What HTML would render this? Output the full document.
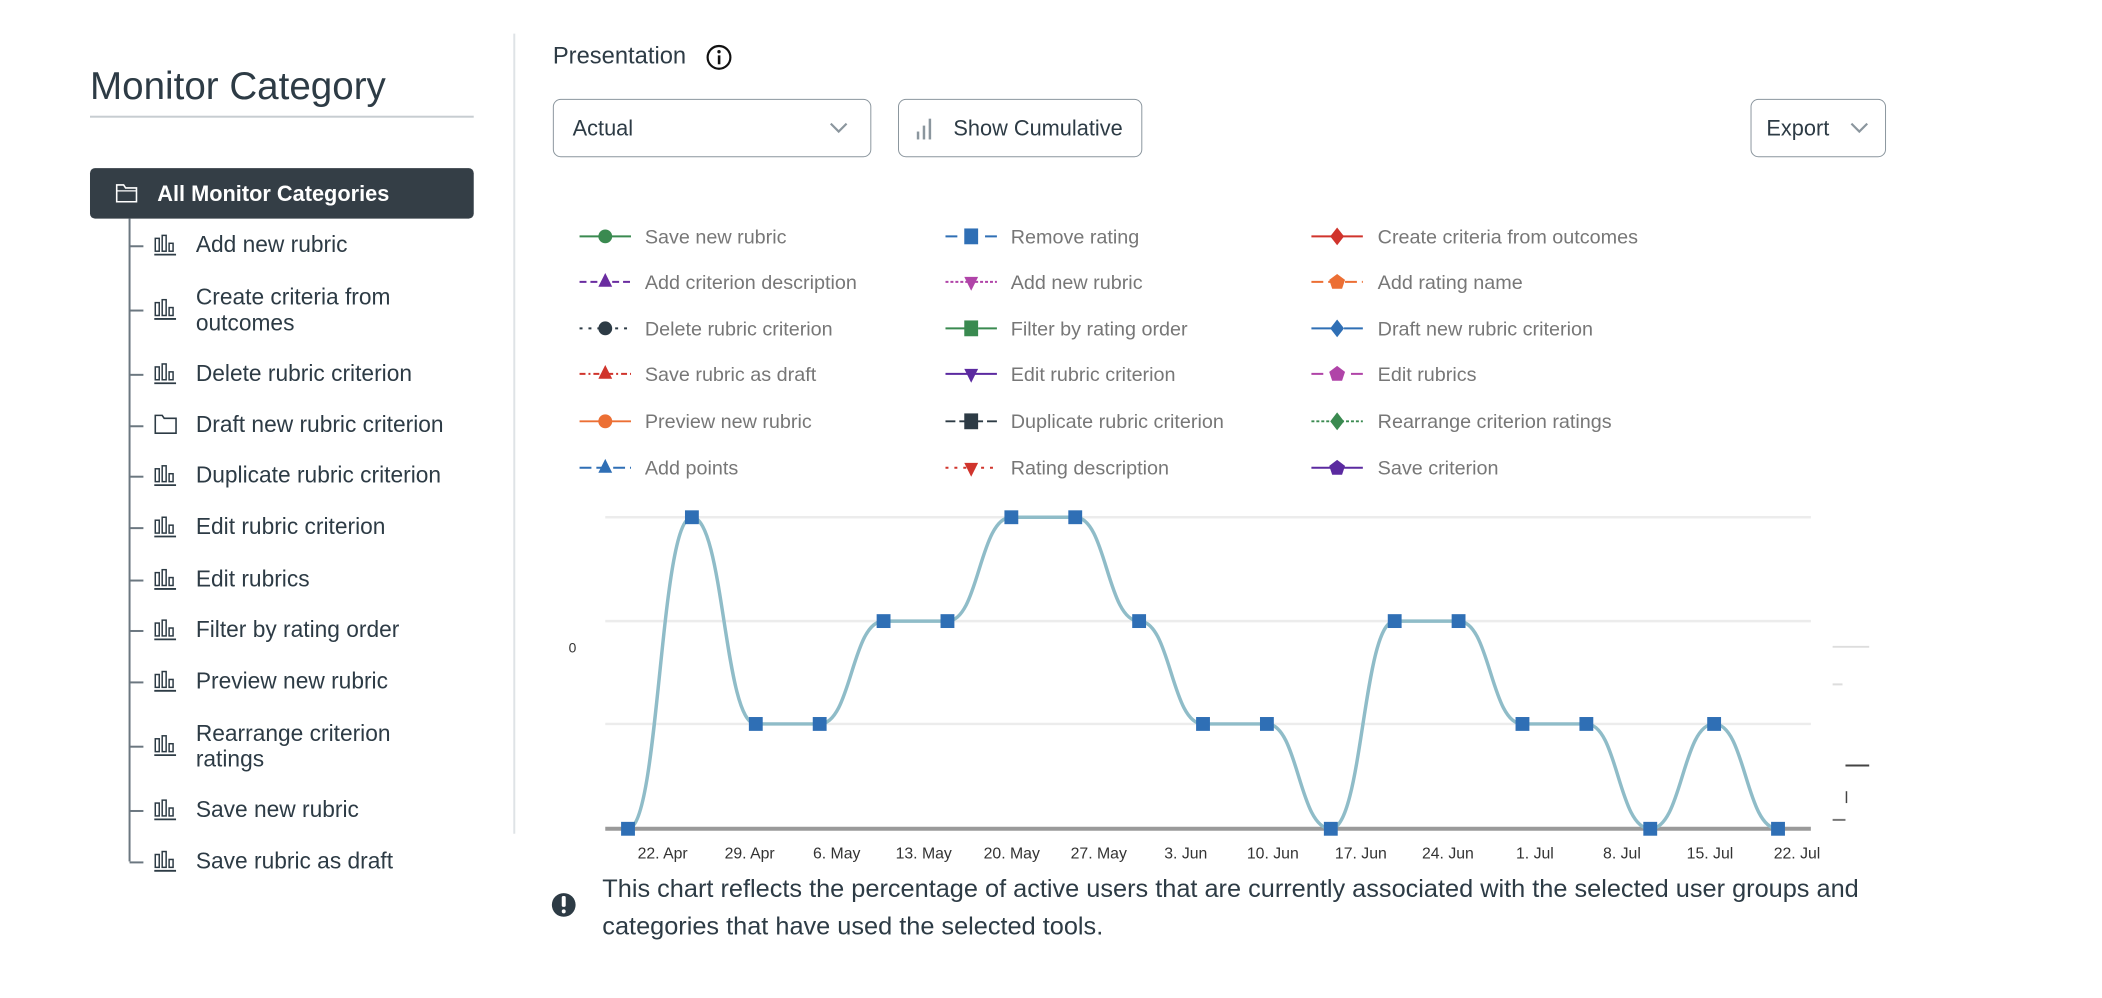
<!DOCTYPE html>
<html><head><meta charset="utf-8"><style>
*{margin:0;padding:0;box-sizing:border-box}
body{width:2102px;height:998px;background:#fff;font-family:"Liberation Sans",sans-serif;position:relative;overflow:hidden;color:#2d3b45}
#w{position:absolute;left:0;top:0;width:2102px;height:998px;transform:scale(0.989);transform-origin:0 0}
.a{position:absolute;white-space:nowrap}
.ti{font-size:23px;color:#2d3b45}
.btn{position:absolute;border:1.5px solid #8b969e;border-radius:8px;background:#fff;font-size:22px;color:#2d3b45}
</style></head><body><div id="w">
<div class="a" style="left:91px;top:66px;font-size:39px;color:#2d3b45">Monitor Category</div>
<div class="a" style="left:91px;top:117px;width:388px;height:2px;background:#c7cdd1"></div>
<div class="a" style="left:519px;top:34px;width:1.5px;height:809px;background:#dfe3e6"></div>
<div class="a" style="left:91px;top:170px;width:388px;height:51px;background:#343e46;border-radius:5px"></div>
<svg class="a" style="left:116px;top:184px" width="24" height="22" viewBox="0 0 24 22"><path d="M2 3h7l2 3h11v14H2z" fill="none" stroke="#fff" stroke-width="1.6"/><path d="M2 9h20" stroke="#fff" stroke-width="1.3"/></svg>
<div class="a" style="left:159px;top:183px;font-size:22px;color:#fff;font-weight:bold">All Monitor Categories</div>
<div class="a" style="left:130px;top:221px;width:2px;height:650px;background:#6b7780"></div>
<div id="tree"></div>
<div class="a" style="left:559px;top:43px;font-size:24px;color:#2d3b45">Presentation</div>
<svg class="a" style="left:713px;top:44px" width="28" height="28"><circle cx="14" cy="14" r="11.5" fill="none" stroke="#111" stroke-width="2.2"/><rect x="12.8" y="12" width="2.6" height="9" fill="#111"/><circle cx="14" cy="8.3" r="1.7" fill="#111"/></svg>
<div class="btn" style="left:559px;top:100px;width:322px;height:59px"><span class="a" style="left:19px;top:16px">Actual</span><svg class="a" style="left:278px;top:20px" width="20" height="16"><path d="M2 4l8 8 8-8" fill="none" stroke="#8b969e" stroke-width="2.2"/></svg></div>
<div class="btn" style="left:908px;top:100px;width:247px;height:59px"><svg class="a" style="left:16px;top:16px" width="20" height="26"><rect x="2" y="16" width="2.5" height="8" fill="#8b969e"/><rect x="8" y="10" width="2.5" height="14" fill="#8b969e"/><rect x="14" y="3" width="2.5" height="21" fill="#8b969e"/></svg><span class="a" style="left:55px;top:16px">Show Cumulative</span></div>
<div class="btn" style="left:1770px;top:100px;width:137px;height:59px"><span class="a" style="left:15px;top:16px">Export</span><svg class="a" style="left:99px;top:20px" width="20" height="16"><path d="M2 4l8 8 8-8" fill="none" stroke="#8b969e" stroke-width="2.2"/></svg></div>
<svg class="a" style="left:0;top:0" width="2102" height="998">
<g font-family="Liberation Sans, sans-serif" font-size="20" fill="#777">
<g transform="translate(586,239)"><line x1="0" y1="0" x2="52" y2="0" stroke="#3a8a50" stroke-width="2"/><circle cx="26" cy="0" r="7" fill="#3a8a50"/></g><text x="652" y="246">Save new rubric</text>
<g transform="translate(586,285)"><line x1="0" y1="0" x2="52" y2="0" stroke="#6a2ca0" stroke-width="2" stroke-dasharray="7,4"/><path d="M26 -9l7 14h-14z" fill="#6a2ca0"/></g><text x="652" y="292">Add criterion description</text>
<g transform="translate(586,332)"><line x1="0" y1="0" x2="52" y2="0" stroke="#2d3b45" stroke-width="2" stroke-dasharray="3,6"/><circle cx="26" cy="0" r="7" fill="#2d3b45"/></g><text x="652" y="339">Delete rubric criterion</text>
<g transform="translate(586,378)"><line x1="0" y1="0" x2="52" y2="0" stroke="#d0342c" stroke-width="2" stroke-dasharray="6,3,2,3"/><path d="M26 -9l7 14h-14z" fill="#d0342c"/></g><text x="652" y="385">Save rubric as draft</text>
<g transform="translate(586,426)"><line x1="0" y1="0" x2="52" y2="0" stroke="#ec6f34" stroke-width="2"/><circle cx="26" cy="0" r="7" fill="#ec6f34"/></g><text x="652" y="433">Preview new rubric</text>
<g transform="translate(586,473)"><line x1="0" y1="0" x2="52" y2="0" stroke="#2f6fb5" stroke-width="2" stroke-dasharray="12,5"/><path d="M26 -9l7 14h-14z" fill="#2f6fb5"/></g><text x="652" y="480">Add points</text>
<g transform="translate(956,239)"><line x1="0" y1="0" x2="52" y2="0" stroke="#2f6fb5" stroke-width="2" stroke-dasharray="12,8"/><rect x="19" y="-8" width="14" height="16" fill="#2f6fb5"/></g><text x="1022" y="246">Remove rating</text>
<g transform="translate(956,285)"><line x1="0" y1="0" x2="52" y2="0" stroke="#b044a8" stroke-width="2" stroke-dasharray="3,2"/><path d="M26 9l7 -14h-14z" fill="#b044a8"/></g><text x="1022" y="292">Add new rubric</text>
<g transform="translate(956,332)"><line x1="0" y1="0" x2="52" y2="0" stroke="#3a8a50" stroke-width="2" stroke-dasharray="20,5,3,5"/><rect x="19" y="-8" width="14" height="16" fill="#3a8a50"/></g><text x="1022" y="339">Filter by rating order</text>
<g transform="translate(956,378)"><line x1="0" y1="0" x2="52" y2="0" stroke="#5b2aa0" stroke-width="2"/><path d="M26 9l7 -14h-14z" fill="#5b2aa0"/></g><text x="1022" y="385">Edit rubric criterion</text>
<g transform="translate(956,426)"><line x1="0" y1="0" x2="52" y2="0" stroke="#2d3b45" stroke-width="2" stroke-dasharray="10,4"/><rect x="19" y="-8" width="14" height="16" fill="#2d3b45"/></g><text x="1022" y="433">Duplicate rubric criterion</text>
<g transform="translate(956,473)"><line x1="0" y1="0" x2="52" y2="0" stroke="#d0342c" stroke-width="2" stroke-dasharray="3,6"/><path d="M26 9l7 -14h-14z" fill="#d0342c"/></g><text x="1022" y="480">Rating description</text>
<g transform="translate(1326,239)"><line x1="0" y1="0" x2="52" y2="0" stroke="#d0342c" stroke-width="2"/><path d="M26 -9l7 9-7 9-7-9z" fill="#d0342c"/></g><text x="1393" y="246">Create criteria from outcomes</text>
<g transform="translate(1326,285)"><line x1="0" y1="0" x2="52" y2="0" stroke="#ec6f34" stroke-width="2" stroke-dasharray="12,5"/><path d="M26 -8l8 6-3 9h-10l-3-9z" fill="#ec6f34"/></g><text x="1393" y="292">Add rating name</text>
<g transform="translate(1326,332)"><line x1="0" y1="0" x2="52" y2="0" stroke="#2f6fb5" stroke-width="2" stroke-dasharray="20,5,3,5"/><path d="M26 -9l7 9-7 9-7-9z" fill="#2f6fb5"/></g><text x="1393" y="339">Draft new rubric criterion</text>
<g transform="translate(1326,378)"><line x1="0" y1="0" x2="52" y2="0" stroke="#b044a8" stroke-width="2" stroke-dasharray="12,8"/><path d="M26 -8l8 6-3 9h-10l-3-9z" fill="#b044a8"/></g><text x="1393" y="385">Edit rubrics</text>
<g transform="translate(1326,426)"><line x1="0" y1="0" x2="52" y2="0" stroke="#3a8a50" stroke-width="2" stroke-dasharray="3,2"/><path d="M26 -9l7 9-7 9-7-9z" fill="#3a8a50"/></g><text x="1393" y="433">Rearrange criterion ratings</text>
<g transform="translate(1326,473)"><line x1="0" y1="0" x2="52" y2="0" stroke="#5b2aa0" stroke-width="2" stroke-dasharray="20,5,3,5"/><path d="M26 -8l8 6-3 9h-10l-3-9z" fill="#5b2aa0"/></g><text x="1393" y="480">Save criterion</text>
</g>
<g stroke="#ececec" stroke-width="2.5"><line x1="612" y1="523" x2="1831" y2="523"/><line x1="612" y1="628" x2="1831" y2="628"/><line x1="612" y1="732" x2="1831" y2="732"/></g>
<line x1="612" y1="838" x2="1831" y2="838" stroke="#9a9a9a" stroke-width="4"/>
<text x="575" y="660" font-family="Liberation Sans, sans-serif" font-size="14" fill="#333">0</text>
<path d="M635 838 C667 838 667 523 699.6 523 C732 523 732 732 764.2 732 C796 732 796 732 828.8 732 C861 732 861 628 893.4 628 C926 628 926 628 958 628 C990 628 990 523 1022.6 523 C1055 523 1055 523 1087.2 523 C1119 523 1119 628 1151.8 628 C1184 628 1184 732 1216.4 732 C1249 732 1249 732 1281 732 C1313 732 1313 838 1345.6 838 C1378 838 1378 628 1410.2 628 C1442 628 1442 628 1474.8 628 C1507 628 1507 732 1539.4 732 C1572 732 1572 732 1604 732 C1636 732 1636 838 1668.6 838 C1701 838 1701 732 1733.2 732 C1765 732 1765 838 1797.8 838" fill="none" stroke="#8fbcc8" stroke-width="3.5"/>
<g fill="#2f6fb5">
<rect x="628" y="831" width="14" height="14"/><rect x="692.6" y="516" width="14" height="14"/><rect x="757.2" y="725" width="14" height="14"/><rect x="821.8" y="725" width="14" height="14"/><rect x="886.4" y="621" width="14" height="14"/><rect x="951" y="621" width="14" height="14"/><rect x="1015.6" y="516" width="14" height="14"/><rect x="1080.2" y="516" width="14" height="14"/><rect x="1144.8" y="621" width="14" height="14"/><rect x="1209.4" y="725" width="14" height="14"/><rect x="1274" y="725" width="14" height="14"/><rect x="1338.6" y="831" width="14" height="14"/><rect x="1403.2" y="621" width="14" height="14"/><rect x="1467.8" y="621" width="14" height="14"/><rect x="1532.4" y="725" width="14" height="14"/><rect x="1597" y="725" width="14" height="14"/><rect x="1661.6" y="831" width="14" height="14"/><rect x="1726.2" y="725" width="14" height="14"/><rect x="1790.8" y="831" width="14" height="14"/>
</g>
<g font-family="Liberation Sans, sans-serif" font-size="16" fill="#333" text-anchor="middle">
<text x="670" y="868">22. Apr</text><text x="758" y="868">29. Apr</text><text x="846" y="868">6. May</text><text x="934" y="868">13. May</text><text x="1023" y="868">20. May</text><text x="1111" y="868">27. May</text><text x="1199" y="868">3. Jun</text><text x="1287" y="868">10. Jun</text><text x="1376" y="868">17. Jun</text><text x="1464" y="868">24. Jun</text><text x="1552" y="868">1. Jul</text><text x="1640" y="868">8. Jul</text><text x="1729" y="868">15. Jul</text><text x="1817" y="868">22. Jul</text>
</g>
<g stroke="#ddd" stroke-width="2"><line x1="1853" y1="654" x2="1890" y2="654"/><line x1="1853" y1="692" x2="1863" y2="692"/></g>
<line x1="1866" y1="774" x2="1890" y2="774" stroke="#444" stroke-width="2"/>
<line x1="1867" y1="800" x2="1867" y2="812" stroke="#444" stroke-width="1.5"/>
<line x1="1853" y1="829" x2="1866" y2="829" stroke="#777" stroke-width="2"/>
<circle cx="570" cy="915" r="12" fill="#2d3b45"/><rect x="568" y="906" width="4" height="11" rx="1.5" fill="#fff"/><circle cx="570" cy="921.5" r="2" fill="#fff"/>
</svg>
<div class="a" style="left:609px;top:880px;font-size:25.6px;color:#2d3b45;line-height:38px;white-space:normal;width:1400px">This chart reflects the percentage of active users that are currently associated with the selected user groups and<br>categories that have used the selected tools.</div>
</div>
<script>
var items=[["Add new rubric",248],["Create criteria from|outcomes",313],["Delete rubric criterion",378],["Draft new rubric criterion",430,1],["Duplicate rubric criterion",481],["Edit rubric criterion",533],["Edit rubrics",586],["Filter by rating order",637],["Preview new rubric",689],["Rearrange criterion|ratings",754],["Save new rubric",819],["Save rubric as draft",871]];
var h="";
items.forEach(function(it){var y=it[1];var lines=it[0].split("|");
h+='<div class="a" style="left:131px;top:'+y+'px;width:14px;height:2px;background:#6b7780"></div>';
if(it[2])h+='<svg class="a" style="left:155px;top:'+(y-12)+'px" width="26" height="22"><path d="M2 2h7l2 3h12v15H2z" fill="none" stroke="#2d3b45" stroke-width="1.6"/></svg>';
else h+='<svg class="a" style="left:155px;top:'+(y-11)+'px" width="26" height="22"><g fill="none" stroke="#2d3b45" stroke-width="1.5"><rect x="2" y="4" width="4" height="13"/><rect x="9" y="1" width="4" height="16"/><rect x="16" y="9" width="4" height="8"/></g><line x1="1" y1="20.5" x2="23" y2="20.5" stroke="#2d3b45" stroke-width="1.8"/></svg>';
if(lines.length==1)h+='<div class="a ti" style="left:198px;top:'+(y-14)+'px">'+lines[0]+'</div>';
else h+='<div class="a ti" style="left:198px;top:'+(y-26)+'px;line-height:26px">'+lines[0]+'<br>'+lines[1]+'</div>';});
document.getElementById("tree").innerHTML=h;
</script>
</body></html>
